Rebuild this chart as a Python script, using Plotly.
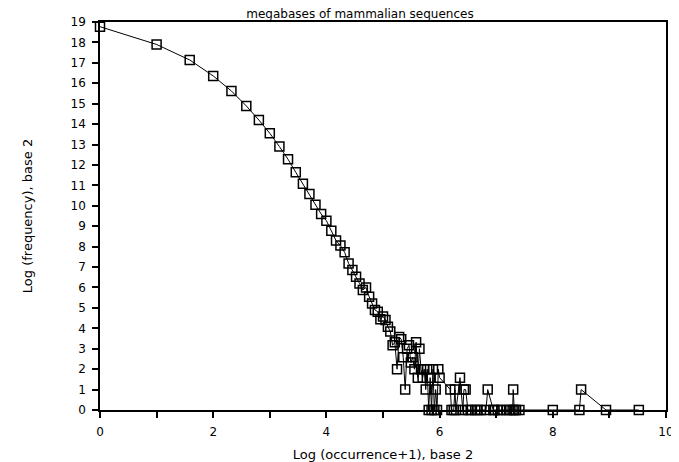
import plotly.graph_objects as go

# log2(occurrence+1)
x_vals = [0, 1, 1.585, 2, 2.322, 2.585, 2.807, 3, 3.17, 3.322, 3.459, 3.585, 3.7, 3.807,
          3.907, 4, 4.087, 4.17, 4.248, 4.322, 4.392, 4.459, 4.524, 4.585, 4.644, 4.7,
          4.755, 4.807, 4.858, 4.907, 4.954, 5.0, 5.044, 5.087, 5.129, 5.17, 5.209,
          5.248, 5.285, 5.322, 5.358, 5.392, 5.426, 5.459, 5.492, 5.524, 5.555, 5.585,
          5.615, 5.644, 5.672, 5.7, 5.728, 5.755, 5.781, 5.807, 5.833, 5.858, 5.883,
          5.907, 5.931, 5.954, 5.977, 6.0, 6.19, 6.21, 6.25, 6.27, 6.29, 6.36, 6.41,
          6.43, 6.46, 6.5, 6.55, 6.63, 6.67, 6.73, 6.82, 6.85, 6.95, 6.97, 7.03, 7.09,
          7.18, 7.23, 7.29, 7.3, 7.32, 7.35, 7.41, 8.0, 8.47, 8.5, 8.94, 9.52]
# log2(frequency)
y_vals = [18.77, 17.9, 17.14, 16.36, 15.62, 14.89, 14.2, 13.55, 12.9, 12.28, 11.64, 11.08,
          10.58, 10.05, 9.6, 9.27, 8.78, 8.3, 8.05, 7.72, 7.18, 6.86, 6.53, 6.2, 5.88, 6.0,
          5.55, 5.22, 4.9, 4.81, 4.44, 4.58, 4.41, 4.08, 3.84, 3.17, 3.32, 2.0, 3.58, 3.46,
          2.58, 1.0, 3.0, 3.17, 2.32, 2.58, 2.0, 3.32, 1.585, 3.0, 2.0, 1.585, 2.0, 1.0,
          2.0, 0, 1.585, 0, 2.0, 0, 1.0, 0, 2.0, 1.585, 1.0, 0, 0, 1.0, 0, 1.585, 0,
          1.0, 1.0, 0, 0, 0, 0, 0, 0, 1.0, 0, 0, 0, 0,
          0, 0, 0, 1.0, 0, 0, 0, 0, 0, 1.0, 0, 0]

title_text = "megabases of mammalian sequences"
x_title = "Log (occurrence+1), base 2"
y_title = "Log (frequency), base 2"

FONT = "DejaVu Sans"
W, H = 671, 454  # page body adds an 8px margin inside the 679x462 window

fig = go.Figure()
fig.add_trace(go.Scatter(
    x=x_vals, y=y_vals, mode="lines+markers",
    line=dict(color="black", width=1),
    marker=dict(symbol="square-open", size=9, color="black", line=dict(width=1.5)),
    cliponaxis=False, showlegend=False,
))

fig.update_layout(
    width=W, height=H,
    margin=dict(l=92, r=13, t=14, b=52, autoexpand=False),
    paper_bgcolor="white", plot_bgcolor="white",
    font=dict(family=FONT, color="black", size=12),
    title=dict(text=title_text, x=352 / W, xanchor="center", y=1 - 2 / H, yanchor="top",
               xref="container", yref="container", automargin=False,
               pad=dict(t=0, b=0, l=0, r=0),
               font=dict(size=12, family=FONT)),
    xaxis=dict(range=[0, 10], dtick=2, tick0=0, showgrid=False, zeroline=False,
               automargin=False,
               showline=True, linecolor="black", linewidth=1.5, mirror=True,
               ticks="outside", ticklen=6, tickwidth=1.5, tickcolor="black",
               ticklabelstandoff=4,
               minor=dict(dtick=1, ticks="outside", ticklen=6, tickwidth=1.5, tickcolor="black"),
               tickfont=dict(size=12),
               title=dict(text=x_title, font=dict(size=13), standoff=20)),
    yaxis=dict(range=[0, 19], dtick=1, tick0=0, showgrid=False, zeroline=False,
               automargin=False,
               showline=True, linecolor="black", linewidth=1.5, mirror=True,
               ticks="outside", ticklen=6, tickwidth=1.5, tickcolor="black",
               ticklabelstandoff=4,
               tickfont=dict(size=12),
               title=dict(text=y_title, font=dict(size=13), standoff=35)),
)

fig.write_html("out.html")
